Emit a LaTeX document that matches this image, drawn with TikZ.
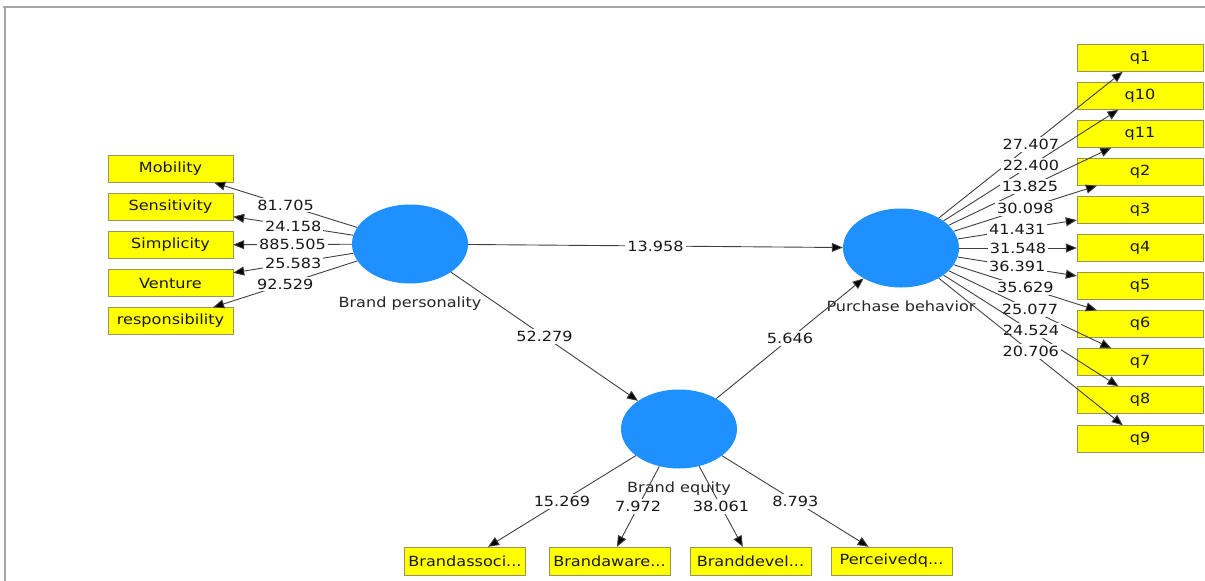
\documentclass[tikz,border=0pt]{standalone}
\usepackage{fontspec}
\usetikzlibrary{shapes.geometric,arrows.meta,positioning}

\newfontfamily\plsfont{DejaVu Sans}[FakeStretch=1.15]

\definecolor{lvblue}{RGB}{30,144,255}
\definecolor{mvyellow}{RGB}{255,255,0}
\definecolor{mvedge}{RGB}{150,150,90}
\definecolor{framegray}{RGB}{165,165,165}

\begin{document}
\begin{tikzpicture}[x=1pt, y=-1pt, font=\plsfont\fontsize{14pt}{16pt}\selectfont,
    >={Triangle[length=11pt, width=9pt, fill=black]}]

    \tikzset{latent/.style={%
      ellipse,%
      fill=lvblue,%
      minimum width=116pt,%
      minimum height=79pt,%
      inner sep=0pt}%
    };

    \tikzset{indicator/.style={draw=mvedge, fill=mvyellow, rectangle,
      minimum width=125pt, minimum height=27pt, inner sep=1pt, text=black!90}};

    \tikzset{smallindicator/.style={indicator, minimum width=121pt, minimum height=28pt}};

    \tikzset{lvname/.style={inner sep=0pt, text=black!85}};

    \tikzset{link/.style={draw=black!75, line width=0.9pt}};

    \tikzset{weight/.style={fill=white, inner sep=2pt, text=black!90}};

    \useasboundingbox (0,0) rectangle (1205,581);

    %%%%%%%%%
    % frame %
    %%%%%%%%%
    \draw [framegray, line width=2pt] (3,7) -- (1205,7);
    \draw [framegray, line width=2pt] (5,7) -- (5,581);

    %%%%%%%%%%%
    % latents %
    %%%%%%%%%%%
    \path (410, 244) node [latent] (bp) {};
    \path (901, 248) node [latent] (pb) {};
    \path (679, 429) node [latent] (be) {};

    \node [lvname, below=13pt of bp] (bpname) {Brand personality};
    \node [lvname, below=13pt of pb] (pbname) {Purchase behavior};
    \node [lvname, below=13pt of be] (bename) {Brand equity};

    %%%%%%%%%%%%%%%%%%%%%
    % brand personality %
    %%%%%%%%%%%%%%%%%%%%%
    \path (170.5, 169) node [indicator] (mob) {Mobility};
    \path (170.5, 207) node [indicator] (sen) {Sensitivity};
    \path (170.5, 245) node [indicator] (sim) {Simplicity};
    \path (170.5, 283) node [indicator] (ven) {Venture};
    \path (170.5, 321) node [indicator] (res) {responsibility};

    \draw [link, ->] (bp) -- (mob) node [weight, pos=0.5] {81.705};
    \draw [link, ->] (bp) -- (sen) node [weight, pos=0.5] {24.158};
    \draw [link, ->] (bp) -- (sim) node [weight, pos=0.5] {885.505};
    \draw [link, ->] (bp) -- (ven) node [weight, pos=0.5] {25.583};
    \draw [link, ->] (bp) -- (res) node [weight, pos=0.5] {92.529};

    %%%%%%%%%%%%%%%%%%%%%
    % purchase behavior %
    %%%%%%%%%%%%%%%%%%%%%
    \path (1140, 58) node [indicator, minimum width=126pt] (q1) {q1};
    \path (1140, 96) node [indicator, minimum width=126pt] (q10) {q10};
    \path (1140, 134) node [indicator, minimum width=126pt] (q11) {q11};
    \path (1140, 172) node [indicator, minimum width=126pt] (q2) {q2};
    \path (1140, 210) node [indicator, minimum width=126pt] (q3) {q3};
    \path (1140, 248) node [indicator, minimum width=126pt] (q4) {q4};
    \path (1140, 286) node [indicator, minimum width=126pt] (q5) {q5};
    \path (1140, 324) node [indicator, minimum width=126pt] (q6) {q6};
    \path (1140, 362) node [indicator, minimum width=126pt] (q7) {q7};
    \path (1140, 400) node [indicator, minimum width=126pt] (q8) {q8};
    \path (1140, 439) node [indicator, minimum width=126pt] (q9) {q9};

    \draw [link, ->] (pb) -- (q1) node [weight, pos=0.5] {27.407};
    \draw [link, ->] (pb) -- (q10) node [weight, pos=0.5] {22.400};
    \draw [link, ->] (pb) -- (q11) node [weight, pos=0.5] {13.825};
    \draw [link, ->] (pb) -- (q2) node [weight, pos=0.5] {30.098};
    \draw [link, ->] (pb) -- (q3) node [weight, pos=0.5] {41.431};
    \draw [link, ->] (pb) -- (q4) node [weight, pos=0.5] {31.548};
    \draw [link, ->] (pb) -- (q5) node [weight, pos=0.5] {36.391};
    \draw [link, ->] (pb) -- (q6) node [weight, pos=0.5] {35.629};
    \draw [link, ->] (pb) -- (q7) node [weight, pos=0.5] {25.077};
    \draw [link, ->] (pb) -- (q8) node [weight, pos=0.5] {24.524};
    \draw [link, ->] (pb) -- (q9) node [weight, pos=0.5] {20.706};

    %%%%%%%%%%%%%%%%
    % brand equity %
    %%%%%%%%%%%%%%%%
    \path (465, 561) node [smallindicator] (bas) {Brandassoci...};
    \path (609.5, 561) node [smallindicator] (baw) {Brandaware...};
    \path (750.5, 561) node [smallindicator] (bdv) {Branddevel...};
    \path (891.5, 561) node [smallindicator] (pq) {Perceivedq...};

    \draw [link, ->] (be) -- (bas) node [weight, pos=0.5] {15.269};
    \draw [link, ->] (be) -- (baw) node [weight, pos=0.5] {7.972};
    \draw [link, ->] (be) -- (bdv) node [weight, pos=0.5] {38.061};
    \draw [link, ->] (be) -- (pq) node [weight, pos=0.5] {8.793};

    %%%%%%%%%%%%%%%
    % inner model %
    %%%%%%%%%%%%%%%
    \draw [link, ->] (bp) -- (pb) node [weight, pos=0.5] {13.958};
    \draw [link, ->] (bp) -- (be) node [weight, pos=0.5] {52.279};
    \draw [link, ->] (be) -- (pb) node [weight, pos=0.5] {5.646};

  \end{tikzpicture}
\end{document}
